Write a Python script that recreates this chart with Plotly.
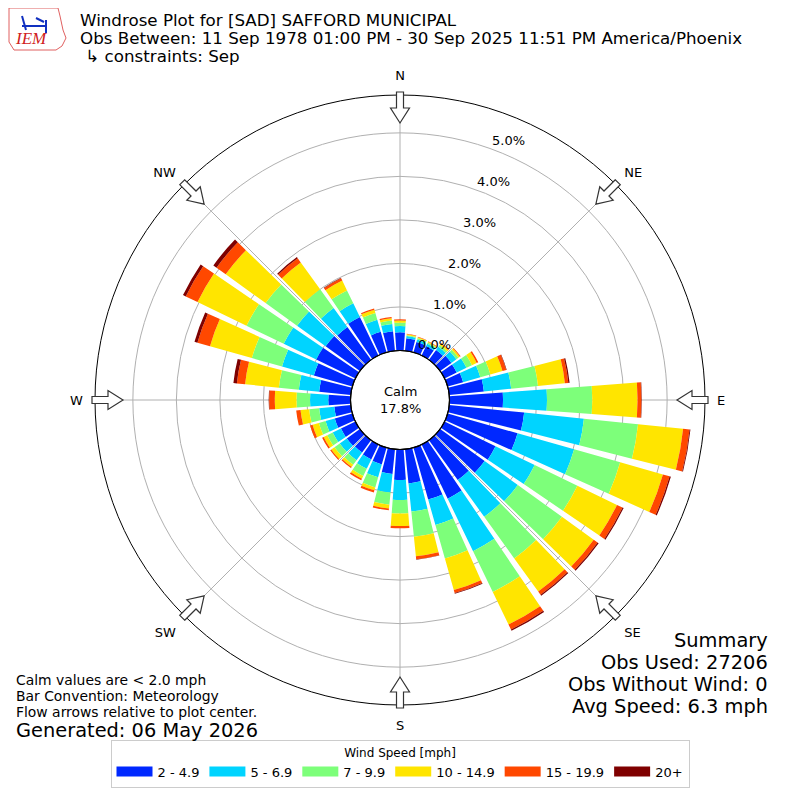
"""
Windrose for SAD (Safford Municipal), September observations, redrawn with Plotly.
"""
import math

import plotly.graph_objects as go

# ---- data (percent of observations, per speed bin, per 10 degree sector) ----
directions = list(range(0, 360, 10))
speed_labels = ["2 - 4.9", "5 - 6.9", "7 - 9.9", "10 - 14.9", "15 - 19.9", "20+"]
speed_colors = ["#0028ff", "#00d4ff", "#7dff7a", "#ffe500", "#ff4800", "#7f0000"]

pct_2_5 = [0.42, 0.29, 0.25, 0.24, 0.28, 0.32, 0.31, 0.37, 0.80, 1.23, 1.73, 1.67,
           1.30, 1.26, 1.13, 1.38, 1.24, 0.79, 0.70, 0.57, 0.40, 0.38, 0.35, 0.37,
           0.37, 0.42, 0.38, 0.51, 0.73, 0.92, 1.00, 0.97, 0.93, 0.98, 0.49, 0.45]
pct_5_7 = [0.14, 0.05, 0.06, 0.06, 0.09, 0.14, 0.25, 0.41, 0.63, 1.01, 1.38, 1.35,
           1.00, 0.94, 1.04, 1.34, 0.61, 0.65, 0.46, 0.43, 0.31, 0.24, 0.22, 0.20,
           0.21, 0.22, 0.35, 0.42, 0.47, 0.76, 0.83, 0.81, 0.54, 0.35, 0.29, 0.17]
pct_7_10 = [0.08, 0.02, 0.03, 0.03, 0.05, 0.06, 0.14, 0.24, 0.62, 1.04, 1.25, 1.10,
            1.09, 1.25, 1.18, 1.04, 0.80, 0.58, 0.31, 0.28, 0.24, 0.18, 0.13, 0.15,
            0.14, 0.16, 0.23, 0.31, 0.46, 0.72, 0.95, 0.89, 0.53, 0.33, 0.16, 0.08]
pct_10_15 = [0.05, 0.02, 0.02, 0.02, 0.04, 0.04, 0.12, 0.29, 0.62, 1.04, 1.04, 1.02,
             1.01, 0.90, 0.94, 0.83, 0.75, 0.45, 0.29, 0.09, 0.07, 0.07, 0.06, 0.09,
             0.09, 0.15, 0.20, 0.50, 0.78, 1.00, 1.25, 1.13, 0.76, 0.25, 0.08, 0.05]
pct_15_20 = [0.03, 0.01, 0.01, 0.01, 0.02, 0.02, 0.04, 0.09, 0.08, 0.09, 0.15, 0.16,
             0.14, 0.11, 0.09, 0.13, 0.07, 0.07, 0.05, 0.04, 0.05, 0.04, 0.03, 0.03,
             0.04, 0.06, 0.10, 0.13, 0.19, 0.30, 0.30, 0.26, 0.12, 0.06, 0.03, 0.03]
pct_20_up = [0.00, 0.00, 0.00, 0.00, 0.00, 0.00, 0.00, 0.01, 0.03, 0.01, 0.02, 0.03,
             0.03, 0.03, 0.03, 0.03, 0.02, 0.01, 0.00, 0.00, 0.00, 0.00, 0.00, 0.00,
             0.00, 0.00, 0.00, 0.01, 0.08, 0.07, 0.07, 0.09, 0.03, 0.01, 0.00, 0.00]

ring_values = [0, 1, 2, 3, 4, 5]
compass_angles = [0, 45, 90, 135, 180, 225, 270, 315]
compass_labels = ["N", "NE", "E", "SE", "S", "SW", "W", "NW"]

calm_pct = 17.8
title_lines = ["Windrose Plot for [SAD] SAFFORD MUNICIPAL",
               "Obs Between: 11 Sep 1978 01:00 PM - 30 Sep 2025 11:51 PM America/Phoenix",
               " \u21b3 constraints: Sep"]
summary_lines = ["Summary", "Obs Used: 27206", "Obs Without Wind: 0", "Avg Speed: 6.3 mph"]
note_lines = ["Calm values are < 2.0 mph", "Bar Convention: Meteorology",
              "Flow arrows relative to plot center."]

# ---- geometry (screen pixels of the 800x800 window) ----
W = H = 800
OFF = 8              # page body margin in front of the plot div
CX, CY = 400, 400
R_OUT = 305          # outer circle radius
R_HOLE = 49.5        # calm circle radius
R_MAX = 5.87         # percent at the outer circle
PX_PER_PCT = (R_OUT - R_HOLE) / R_MAX
FONT = "DejaVu Sans"


def px_to_paper(x, y):
    return (x - OFF) / W, 1 - (y - OFF) / H


def polar_px(p, ang, v=0.0):
    """pixel point at radius p along compass angle ang, offset v sideways"""
    a = math.radians(ang)
    ex, ey = math.sin(a), -math.cos(a)
    nx, ny = math.cos(a), math.sin(a)
    return CX + p * ex + v * nx, CY + p * ey + v * ny


def path_of(points):
    pts = [px_to_paper(x, y) for x, y in points]
    return "M" + " L".join(f"{x:.5f},{y:.5f}" for x, y in pts)


series = [pct_2_5, pct_5_7, pct_7_10, pct_10_15, pct_15_20, pct_20_up]

fig = go.Figure()
for name, vals, col in zip(speed_labels, series, speed_colors):
    fig.add_trace(go.Barpolar(
        r=vals, theta=directions, width=8.4, name=name,
        marker=dict(color=col, line=dict(width=0)),
        showlegend=False, hoverinfo="skip",
    ))
# legend entries drawn as thick line swatches
for name, col in zip(speed_labels, speed_colors):
    fig.add_trace(go.Scatterpolar(
        r=[None], theta=[None], mode="lines", name=name,
        line=dict(color=col, width=11),
    ))

shapes = []
# direction arrows on the outer circle, pointing inward
arrow_tpl = [(308, -3.5), (292, -3.5), (292, -9.5), (277, 0), (292, 9.5), (292, 3.5), (308, 3.5)]
for ang in compass_angles:
    pts = [polar_px(p, ang, v) for p, v in arrow_tpl]
    shapes.append(dict(type="path", xref="paper", yref="paper", path=path_of(pts) + " Z",
                       fillcolor="white", line=dict(color="#333333", width=1.2),
                       layer="above"))
# calm circle outline
x0, y0 = px_to_paper(CX - R_HOLE, CY + R_HOLE)
x1, y1 = px_to_paper(CX + R_HOLE, CY - R_HOLE)
shapes.append(dict(type="circle", xref="paper", yref="paper", x0=x0, y0=y0, x1=x1, y1=y1,
                   line=dict(color="black", width=1.2), layer="above"))
# IEM logo (rough outline + blue glyph)
logo = [(9, 8), (58, 8), (60, 16), (63, 30), (66, 38), (62, 46), (56, 50), (14, 50), (9, 42)]
shapes.append(dict(type="path", xref="paper", yref="paper", path=path_of(logo) + " Z",
                   line=dict(color="#e06060", width=1)))
for seg in ([(22, 26), (46, 26)], [(46, 20), (46, 33)], [(22, 16), (26, 30)],
            [(36, 18), (44, 22)]):
    shapes.append(dict(type="path", xref="paper", yref="paper", path=path_of(seg),
                       line=dict(color="#1030c0", width=2)))

ann = []
# title block
for i, txt in enumerate(title_lines):
    x, y = px_to_paper(78, 20 + 18 * i)
    ann.append(dict(text=txt, x=x, y=y, xanchor="left", yanchor="middle",
                    font=dict(size=16.7, color="black")))
x, y = px_to_paper(31, 39)
ann.append(dict(text="<i>IEM</i>", x=x, y=y, xanchor="center", yanchor="middle",
                font=dict(size=17, color="#d02020", family="Liberation Serif")))

# radial percent labels
for v in ring_values:
    x, y = px_to_paper(*polar_px(R_HOLE + v * PX_PER_PCT, 20))
    ann.append(dict(text=f"{v:.1f}%", x=x, y=y, xanchor="left", yanchor="bottom",
                    font=dict(size=13, color="black"), borderpad=0))

# calm in centre
x, y = px_to_paper(CX, CY)
ann.append(dict(text=f"Calm<br>{calm_pct:.1f}%", x=x, y=y, xanchor="center", yanchor="middle",
                font=dict(size=13, color="black")))

# summary, right bottom
for i, txt in enumerate(summary_lines):
    x, y = px_to_paper(770, 640 + 22 * i)
    ann.append(dict(text=txt, x=x, y=y, xanchor="right", yanchor="middle",
                    font=dict(size=19.4, color="black")))
# notes, left bottom
for i, txt in enumerate(note_lines):
    x, y = px_to_paper(14, 680 + 16 * i)
    ann.append(dict(text=txt, x=x, y=y, xanchor="left", yanchor="middle",
                    font=dict(size=13.9, color="black")))
x, y = px_to_paper(14, 730)
ann.append(dict(text="Generated: 06 May 2026", x=x, y=y, xanchor="left", yanchor="middle",
                font=dict(size=19.4, color="black")))

for a in ann:
    a.update(xref="paper", yref="paper", showarrow=False)

dx0, dy0 = px_to_paper(CX - R_OUT, CY + R_OUT)
dx1, dy1 = px_to_paper(CX + R_OUT, CY - R_OUT)
lx, ly = px_to_paper(CX, 788)
fig.update_layout(
    width=W, height=H,
    margin=dict(l=0, r=0, t=0, b=0),
    paper_bgcolor="white",
    font=dict(family=FONT, size=13, color="black"),
    polar=dict(
        domain=dict(x=[dx0, dx1], y=[dy0, dy1]),
        hole=R_HOLE / R_OUT,
        bgcolor="white",
        barmode="stack",
        radialaxis=dict(range=[0, R_MAX], tickvals=ring_values[1:], showticklabels=False,
                        ticks="", showline=False, gridcolor="#b0b0b0", gridwidth=1,
                        layer="above traces"),
        angularaxis=dict(rotation=90, direction="clockwise", tickvals=compass_angles,
                         ticktext=compass_labels, ticks="outside", ticklen=9,
                         tickcolor="rgba(0,0,0,0)", showline=True, linecolor="black",
                         linewidth=1, gridcolor="#b0b0b0", gridwidth=1,
                         tickfont=dict(size=13), layer="above traces"),
    ),
    shapes=shapes,
    annotations=ann,
    showlegend=True,
    legend=dict(
        orientation="h", x=lx, xanchor="center", y=ly, yanchor="bottom",
        bordercolor="#cccccc", borderwidth=1, bgcolor="white",
        title=dict(text="Wind Speed [mph]", side="top center", font=dict(size=12)),
        font=dict(size=13), itemwidth=36,
    ),
)

fig.write_html("out.html")
